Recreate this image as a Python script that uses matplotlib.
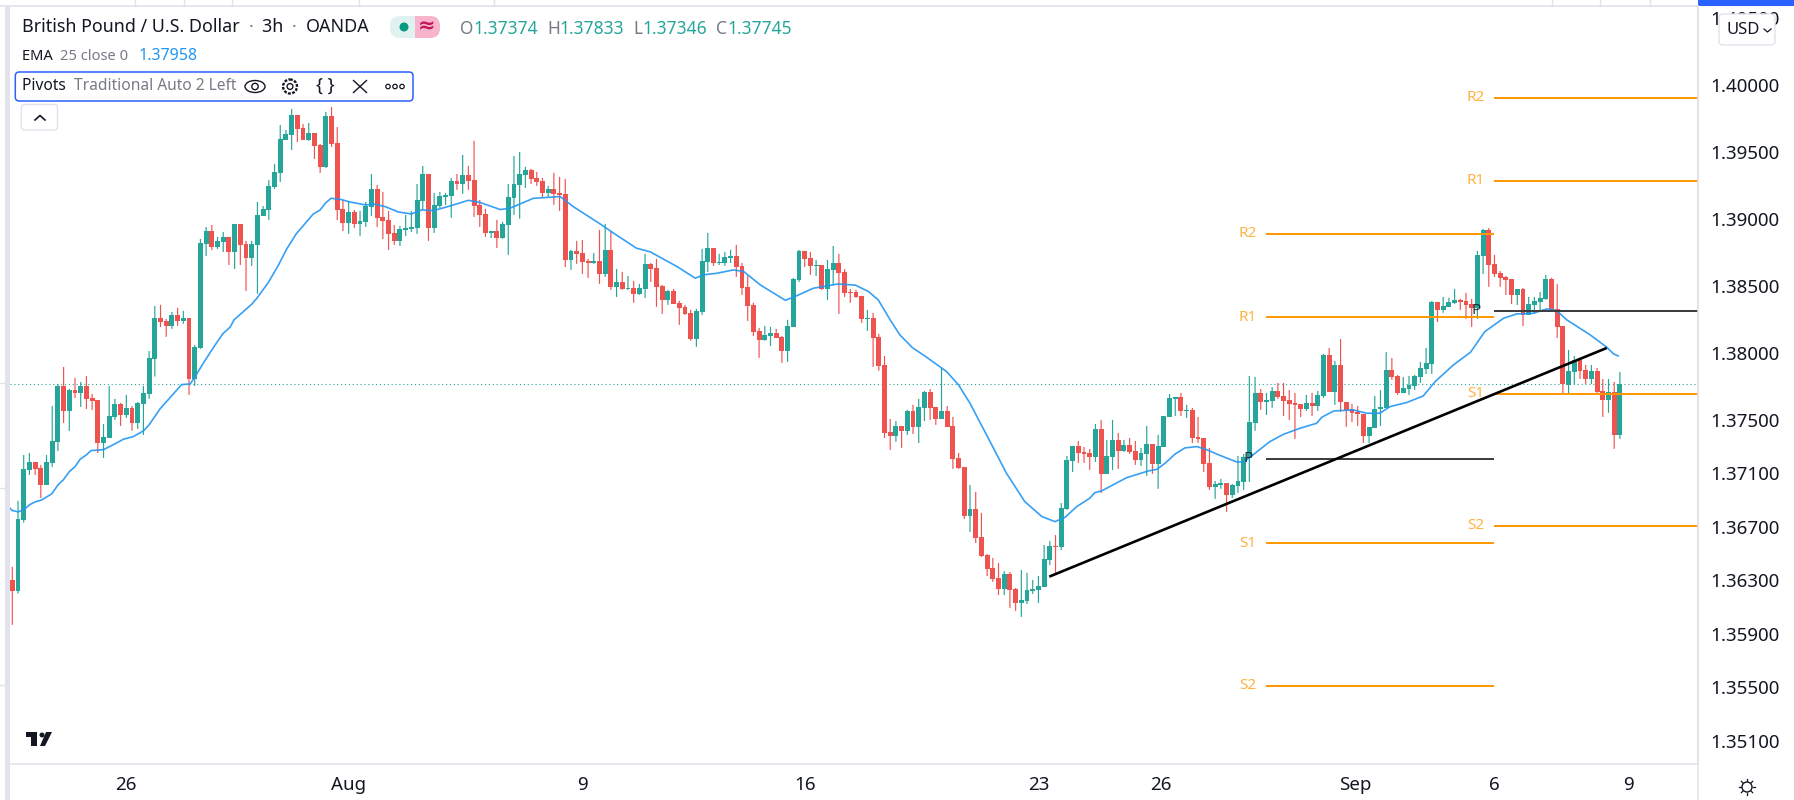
"""GBP/USD 3h candles with EMA 25, weekly pivots and a trendline, in chart-terminal layout."""

import matplotlib
matplotlib.use("Agg")
import matplotlib.pyplot as plt
import numpy as np
from matplotlib.patches import Circle, Ellipse, FancyBboxPatch, Rectangle

plt.rcParams["font.family"] = ["Noto Sans", "DejaVu Sans"]

# candle values, in 1e-5 of a dollar
open_pts = [
    136302,136222,136750,137123,137183,137138,137011,137176,137333,137751,
    137564,137721,137699,137751,137661,137646,137325,137362,137519,137616,
    137534,137587,137474,137616,137691,137956,138259,138237,138200,138282,
    138237,138259,137803,138035,138812,138909,138790,138827,138865,138752,
    138962,138812,138708,138805,139021,139066,139238,139343,139589,139626,
    139776,139679,139589,139641,139552,139387,139768,139567,139074,138969,
    139051,138962,138977,139089,139223,139014,138991,138894,138835,138917,
    138924,138932,139133,139335,138932,139096,139163,139171,139283,139260,
    139328,139290,139104,139036,138894,138909,138857,138954,139156,139253,
    139328,139365,139305,139283,139193,139223,139193,139186,138693,138760,
    138745,138685,138670,138685,138588,138768,138491,138528,138476,138484,
    138439,138476,138663,138633,138499,138394,138461,138372,138342,138297,
    138103,138304,138678,138782,138670,138670,138708,138723,138648,138491,
    138357,138162,138095,138125,138148,138118,138013,138192,138543,138760,
    138708,138648,138655,138476,138618,138670,138603,138454,138454,138424,
    138252,138260,138118,137908,137407,137377,137452,137415,137564,137445,
    137587,137706,137594,137504,137564,137452,137213,137146,136780,136832,
    136623,136488,136391,136316,136234,136346,136234,136129,136144,136219,
    136226,136249,136450,136555,136548,136832,137191,137303,137258,137250,
    137221,137430,137094,137221,137348,137265,137310,137265,137198,137243,
    137318,137168,137295,137519,137654,137669,137564,137572,137370,137362,
    137176,136996,137011,137026,136937,137004,137034,137213,137474,137699,
    137631,137639,137714,137676,137646,137624,137616,137579,137624,137601,
    137676,137982,137706,137908,137632,137579,137557,137542,137378,137437,
    137579,137587,137871,137826,137699,137729,137751,137818,137878,137916,
    138379,138319,138341,138371,138394,138386,138364,138334,138722,138916,
    138663,138595,138565,138550,138431,138476,138282,138356,138379,138401,
    138550,138326,138199,137759,137856,137945,137871,137803,137863,137714,
    137647,137706,137385,
]
close_pts = [
    136222,136757,137131,137183,137131,137011,137183,137340,137751,137564,
    137721,137699,137751,137654,137639,137325,137370,137527,137616,137534,
    137587,137474,137624,137699,137960,138259,138230,138200,138282,138237,
    138259,137804,138043,138820,138909,138790,138835,138865,138752,138962,
    138805,138708,138812,139029,139074,139245,139350,139597,139634,139776,
    139671,139589,139641,139544,139387,139768,139559,139066,138969,139051,
    138962,138984,139096,139223,139006,138984,138887,138835,138924,138932,
    138939,139141,139335,138932,139104,139171,139178,139283,139260,139328,
    139283,139096,139029,138894,138909,138857,138962,139163,139260,139335,
    139365,139298,139275,139193,139223,139186,139178,138693,138760,138738,
    138678,138670,138685,138588,138768,138491,138528,138476,138484,138439,
    138484,138663,138625,138491,138394,138461,138364,138334,138289,138103,
    138312,138685,138782,138670,138678,138715,138723,138640,138484,138349,
    138155,138095,138133,138148,138110,138013,138200,138551,138760,138700,
    138648,138655,138476,138625,138670,138596,138446,138446,138416,138252,
    138260,138110,137901,137400,137377,137452,137415,137564,137445,137594,
    137706,137587,137504,137564,137445,137205,137138,136780,136832,136615,
    136481,136383,136309,136234,136346,136226,136129,136152,136226,136234,
    136256,136458,136555,136548,136839,137198,137303,137250,137243,137221,
    137430,137094,137228,137348,137265,137310,137258,137198,137250,137318,
    137168,137303,137527,137661,137669,137564,137572,137362,137355,137168,
    136996,137019,137026,136937,137011,137041,137221,137482,137699,137631,
    137646,137714,137669,137639,137616,137609,137579,137624,137601,137684,
    137982,137706,137908,137631,137572,137550,137542,137378,137445,137579,
    137594,137871,137818,137699,137736,137759,137826,137886,137923,138379,
    138319,138349,138379,138394,138379,138356,138334,138730,138916,138655,
    138588,138558,138543,138431,138476,138282,138364,138386,138409,138550,
    138319,138192,137766,137863,137945,137863,137803,137863,137706,137647,
    137706,137385,137766,
]
high_pts = [
    136399,136892,137235,137250,137183,137161,137235,137601,137766,137893,
    137728,137811,137781,137826,137691,137646,137467,137751,137654,137624,
    137684,137601,137631,137751,138012,138349,138357,138252,138304,138334,
    138312,138259,138058,138849,138939,138954,138865,138902,138865,138962,
    138962,138835,138835,139126,139096,139290,139410,139701,139664,139821,
    139776,139709,139716,139641,139559,139798,139836,139686,139141,139133,
    139066,139059,139126,139335,139253,139201,139059,138954,138947,139029,
    139059,139260,139395,139335,139193,139201,139193,139305,139335,139477,
    139395,139582,139141,139074,138909,138992,138977,139260,139470,139500,
    139388,139373,139350,139305,139246,139343,139313,139298,138768,138835,
    138842,138700,138745,138917,138962,138909,138625,138603,138573,138536,
    138513,138738,138670,138700,138506,138469,138476,138387,138357,138319,
    138327,138775,138894,138782,138738,138752,138768,138805,138670,138573,
    138372,138185,138200,138192,138177,138125,138245,138558,138768,138760,
    138752,138693,138655,138693,138797,138738,138625,138476,138469,138424,
    138319,138297,138140,137975,137504,137489,137452,137572,137609,137654,
    137714,137728,137594,137885,137601,137519,137250,137146,137011,136959,
    136802,136495,136466,136428,136368,136361,136241,136376,136354,136301,
    136331,136563,136593,136637,136876,137228,137303,137340,137295,137280,
    137467,137497,137348,137497,137400,137348,137362,137340,137288,137452,
    137318,137385,137527,137691,137669,137699,137609,137587,137519,137362,
    137288,137041,137056,137026,137019,137228,137243,137826,137818,137728,
    137699,137743,137773,137773,137721,137699,137616,137684,137699,137714,
    137990,138035,137938,138102,137632,137617,137602,137542,137445,137676,
    137721,138005,137960,137833,137818,137826,137833,137930,138035,138386,
    138379,138416,138409,138476,138401,138446,138401,138760,138924,138931,
    138730,138610,138573,138550,138476,138483,138416,138416,138453,138580,
    138558,138513,138199,138020,137975,137960,137908,137908,137886,137803,
    137803,137781,137856,
]
low_pts = [
    135966,136200,136730,137086,137086,136914,137011,137146,137265,137474,
    137415,137661,137594,137579,137572,137250,137213,137362,137497,137452,
    137512,137415,137430,137385,137654,137821,138192,138118,138177,138200,
    138215,137684,137751,138028,138722,138767,138775,138752,138655,138625,
    138655,138461,138648,138439,139021,138991,139223,139275,139589,139514,
    139574,139589,139582,139447,139343,139380,139537,138991,138909,138887,
    138932,138872,138939,139021,138939,138849,138767,138805,138797,138872,
    138902,138887,139066,138835,138894,139081,139104,139007,139216,139186,
    139216,139014,138939,138865,138857,138782,138850,138730,139029,139000,
    139231,139260,139246,139156,139163,139104,139059,138640,138618,138663,
    138588,138558,138663,138514,138566,138469,138416,138469,138469,138372,
    138431,138409,138528,138342,138289,138357,138364,138207,138282,138088,
    138043,138282,138603,138648,138655,138648,138670,138566,138431,138237,
    138125,137961,138088,138050,138110,137923,137931,138192,138528,138640,
    138581,138573,138469,138394,138506,138289,138416,138372,138409,138222,
    138162,137893,137864,137362,137273,137333,137288,137385,137392,137325,
    137489,137497,137460,137504,137445,137131,137131,136757,136660,136578,
    136473,136331,136286,136189,136189,136092,136070,136025,136122,136197,
    136129,136249,136413,136339,136525,136825,137108,137176,137176,137123,
    137183,136952,137094,137123,137131,137258,137243,137161,137153,137079,
    137094,136982,137295,137519,137527,137527,137512,137325,137325,137108,
    136974,136907,136982,136810,136914,136952,136974,137034,137415,137572,
    137534,137587,137654,137527,137497,137355,137519,137564,137527,137564,
    137661,137706,137609,137557,137445,137482,137452,137325,137325,137437,
    137452,137587,137796,137684,137699,137684,137721,137774,137841,137841,
    138229,138297,138341,138364,138319,138252,138192,138252,138588,138491,
    138565,138491,138431,138364,138356,138199,138282,138289,138311,138394,
    138319,138110,137692,137692,137766,137803,137766,137766,137699,137520,
    137550,137281,137355,
]

# EMA 25: bar position, value
ema_bar = [
    -0.4,0,1.05,2.1,3.1,4,5.15,6.9,8.1,8.95,10,11,11.9,13,13.8,16,18,19.5,21.2,23,24,25.9,28,29.7,31.2,
    32,33.5,35,36.9,38.2,38.9,42,42.9,44.9,46.7,48.1,49.8,52.8,54,54.9,55.9,57.5,59.2,61.9,63.6,65.4,
    67.7,70,71.8,73.9,76.8,80,82.1,85.6,87.3,91.4,96.1,98.4,103.1,105.5,109.5,111.9,116.6,119.8,121.2,
    123.6,126.5,128.3,131.2,135.6,137.3,140.5,144.9,147.9,150.2,151.9,154,155.7,157.9,160.4,163.9,166,
    168,170.9,174.4,177.6,180.6,182.9,184.7,186.7,189,189.9,191.1,195.5,199.3,200.8,202.2,204,205.7,
    207.8,209.5,211.9,214.8,216,218,220.6,223,225.9,228.8,229.7,231.8,235.2,237.6,239.9,241.7,244.6,
    247.5,249.6,252.8,255.8,258.3,261.6,263.9,266.8,269.2,270.9,272.7,276.8,279.7,280.9,281.7,
]
ema_pts = [
    136837,136820,136810,136830,136865,136884,136899,136944,137016,137049,137111,137148,137203,137236,
    137268,137275,137318,137353,137372,137415,137460,137579,137679,137761,137766,
    137816,137921,138020,138140,138190,138245,138362,138406,138523,138655,138772,138887,139036,139066,
    139116,139153,139146,139126,139104,139109,139091,139051,139036,139066,139061,139096,139138,139121,
    139069,139079,139153,139166,139091,138962,138892,138780,138753,138643,138556,138581,138593,138618,
    138606,138506,138391,138419,138481,138513,138504,138456,138394,138244,138132,138037,137965,137858,
    137758,137621,137385,137098,136887,136775,136737,136770,136849,136912,136954,136967,137066,137116,
    137128,137173,137243,137288,137298,137275,137231,137183,137183,137248,137335,137390,137435,137472,
    137517,137564,137572,137547,137547,137597,137627,137676,137784,137908,138003,138157,138257,138289,
    138294,138327,138314,138244,138132,138040,137990,137975,
]

# weekly pivots: left block then right block
pivot_names = ["R2", "R1", "P", "S1", "S2"]
pivots_prev = [1.38887, 1.38266, 1.37207, 1.36577, 1.35509]
pivots_curr = [1.39903, 1.39283, 1.38313, 1.37691, 1.36705]
pivot_edges = [220, 260, 295.7]

trend_bar = [181.9, 279.7]
trend_price = [1.36326, 1.38035]

price_ticks = [1.405, 1.40, 1.395, 1.39, 1.385, 1.38, 1.375, 1.371, 1.367, 1.363, 1.359, 1.355, 1.351]
date_bars = [20, 59, 100, 139, 180, 201.4, 235.5, 260, 283.5]
date_labels = ["26", "Aug", "9", "16", "23", "26", "Sep", "6", "9"]

TEAL = "#26a69a"
RED = "#ef5350"
INK = "#131722"
GREY = "#787b86"
LINE = "#e0e3eb"
ORANGE = "#ff9800"
BLUE = "#2196f3"
W, H = 1794, 800

opens, closes = np.array(open_pts) / 1e5, np.array(close_pts) / 1e5
highs, lows = np.array(high_pts) / 1e5, np.array(low_pts) / 1e5
bars = np.arange(len(opens))
colors = [TEAL if c >= o else RED for o, c in zip(opens, closes)]

fig = plt.figure(figsize=(W / 100, H / 100), dpi=100, facecolor="white")
ax = fig.add_axes([10 / W, (H - 764) / H, 1688 / W, 758 / H])
ax.set_xlim(-0.404, 295.7)
ax.set_ylim(1.34926, 1.40590)

wicks = ax.vlines(bars, lows, highs, colors=colors, linewidth=0.85, zorder=2)
wicks.set_snap(False)
ax.bar(bars, np.maximum(np.abs(closes - opens), 0.00002), bottom=np.minimum(opens, closes),
       width=0.86, color=colors, linewidth=0, zorder=3)
ax.plot(ema_bar, np.array(ema_pts) / 1e5, color=BLUE, lw=1.2, alpha=0.9, zorder=4)

# last price
ax.axhline(closes[-1], color=TEAL, lw=0.8, ls=(0, (1, 2.5)), zorder=1)

for name, left, right in zip(pivot_names, pivots_prev, pivots_curr):
    dark = name == "P"
    col = "#3a3a3a" if dark else ORANGE
    ax.plot(pivot_edges[:2], [left, left], color=col, lw=1.4, solid_capstyle="butt", zorder=5)
    ax.plot(pivot_edges[1:], [right, right], color=col, lw=1.4, solid_capstyle="butt", zorder=5)
    for edge, val in zip(pivot_edges[:2], (left, right)):
        ax.text(edge - 3.3, val, name, color=INK if dark else ORANGE, alpha=0.85 if dark else 0.75,
                fontsize=11, ha="center", va="center", zorder=6)

ax.plot(trend_bar, trend_price, color="black", lw=1.9, solid_capstyle="butt", zorder=6)

ax.yaxis.tick_right()
ax.set_yticks(price_ticks, [f"{p:.5f}" for p in price_ticks])
ax.set_xticks(date_bars, date_labels)
ax.tick_params(axis="both", length=0, labelsize=13.5, labelcolor=INK)
ax.tick_params(axis="y", pad=8.6)
ax.tick_params(axis="x", pad=9)
for lab in ax.get_xticklabels():
    if lab.get_text() in ("Aug", "Sep"):
        lab.set_fontweight("bold")
for side in ("top", "left"):
    ax.spines[side].set_visible(False)
for side in ("right", "bottom"):
    ax.spines[side].set_color(LINE)
    ax.spines[side].set_linewidth(1.1)

# window chrome drawn in pixel coordinates
ui = fig.add_axes([0, 0, 1, 1], zorder=10)
ui.set_xlim(0, W)
ui.set_ylim(H, 0)
ui.axis("off")


def rbox(x0, y0, x1, y1, fc="white", ec=LINE, lw=1.0, r=3, **kw):
    box = FancyBboxPatch((x0 + r, y0 + r), x1 - x0 - 2 * r, y1 - y0 - 2 * r,
                         boxstyle=f"round,pad={r},rounding_size={r}", fc=fc, ec=ec, lw=lw, **kw)
    ui.add_patch(box)
    return box


def run_text(x, y, parts, size=13.0):
    # pieces of one line placed one after the other
    for text, col in parts:
        t = ui.text(x, y, text, color=col, fontsize=size, va="center", ha="left")
        bb = t.get_window_extent(fig.canvas.get_renderer())
        x += bb.width + (size * 0.33 if text.endswith(" ") else 0)
    return x


ui.add_patch(Rectangle((5, 6), 5, H - 6, fc=LINE, ec="none"))
ui.plot([0, 1698], [6, 6], color=LINE, lw=1.2)
ui.plot([1698, 1698], [6, H], color=LINE, lw=1.1)
ui.add_patch(Rectangle((1698, 0), W - 1698, 6, fc="#2962ff", ec="none"))
for xs in (135, 184, 232, 359, 494, 1552, 1600, 1650):
    ui.plot([xs, xs], [0, 6], color=LINE, lw=1)
for ys in (383, 488, 685):
    ui.plot([0, 5], [ys, ys], color=LINE, lw=1)

run_text(22, 27, [("British Pound / U.S. Dollar ", INK), ("· ", GREY), ("3h ", INK),
                  ("· ", GREY), ("OANDA", INK)], size=12.9)
run_text(22, 56, [("EMA ", INK), ("25 close 0", GREY)], size=10.6)
ui.text(139, 56, "1.37958", color=BLUE, fontsize=11.5, va="center")

x = 460
for lab, val in zip("OHLC", ("1.37374", "1.37833", "1.37346", "1.37745")):
    x = run_text(x, 28.5, [(lab, GREY), (val, TEAL)], size=12.5) + 9

# market status pill
rbox(390, 16, 440, 38, fc="#dff2ef", ec="none", r=10)
pink = rbox(390, 16, 440, 38, fc="#f7b4ca", ec="none", r=10)
pink.set_clip_path(Rectangle((415, 10), 30, 34, transform=ui.transData))
ui.add_patch(Circle((404, 27), 4.5, fc="#089981", ec="none"))
ui.text(426.5, 26.5, "≈", color="#c2185b", fontsize=15, ha="center", va="center", fontweight="bold")

# study row
rbox(15.3, 72, 413, 101, ec="#2962ff", lw=1.1, r=4)
run_text(22, 86.5, [("Pivots ", INK), ("Traditional Auto 2 Left", GREY)], size=11.2)
ui.add_patch(Ellipse((255, 86.5), 20, 12, fc="none", ec=INK, lw=1))
ui.add_patch(Circle((255, 86.5), 3.2, fc="none", ec=INK, lw=1))
ui.add_patch(Circle((290, 86.5), 7, fc="none", ec=INK, lw=1.7, ls=(0, (1.2, 0.6))))
ui.add_patch(Circle((290, 86.5), 2.9, fc="none", ec=INK, lw=1))
ui.text(325, 85.5, "{ }", color=INK, fontsize=13, ha="center", va="center", fontweight="light")
ui.plot([353.5, 366.5], [80.5, 92.5], color=INK, lw=1)
ui.plot([353.5, 366.5], [92.5, 80.5], color=INK, lw=1)
for cx in (388, 395, 402):
    ui.add_patch(Circle((cx, 86.5), 2.2, fc="none", ec=INK, lw=0.9))

# collapse button
rbox(21.4, 104.5, 57.5, 130, r=3)
ui.plot([35, 40, 45], [120, 115.5, 120], color=INK, lw=1.2)

# currency button
rbox(1719, 14, 1775, 45, r=4, zorder=3)
ui.text(1727, 30, "USD", color=INK, fontsize=12, va="center", zorder=4)
ui.plot([1764, 1767.5, 1771], [29, 32, 29], color=INK, lw=0.9, zorder=4)

# logo
ui.add_patch(Rectangle((26, 732), 11, 5, fc=INK, ec="none"))
ui.add_patch(Rectangle((31, 732), 6, 14, fc=INK, ec="none"))
ui.add_patch(Circle((42, 735), 2.5, fc=INK, ec="none"))
ui.fill([46, 52, 45, 40], [732, 732, 746, 746], color=INK, lw=0)

# settings sun
ui.add_patch(Circle((1747, 787), 5, fc="none", ec=INK, lw=1))
for a in np.arange(0, 2 * np.pi, np.pi / 4):
    ui.plot([1747 + 6 * np.cos(a), 1747 + 8 * np.cos(a)], [787 + 6 * np.sin(a), 787 + 8 * np.sin(a)],
            color=INK, lw=0.9)

fig.savefig("out.png", dpi=100, facecolor="white")
